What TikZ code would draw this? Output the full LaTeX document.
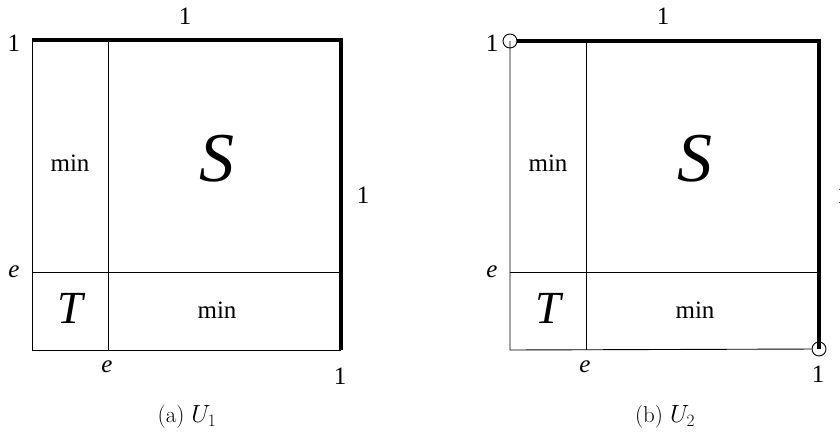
\documentclass[tikz,border=0pt]{standalone}
\usepackage{fontspec}
\newfontfamily\labelfont{Liberation Serif}
\usetikzlibrary{positioning}

\begin{document}
\begin{tikzpicture}[
  x=1pt, y=1pt,
  thin line/.style={line width=0.9pt},
  thick line/.style={line width=3.8pt},
  lbl/.style={font=\labelfont\fontsize{25}{28}\selectfont, inner sep=0pt},
  var/.style={font=\labelfont\itshape\fontsize{25}{28}\selectfont, inner sep=0pt},
  bigS/.style={font=\labelfont\itshape\fontsize{70}{74}\selectfont, inner sep=0pt},
  bigT/.style={font=\labelfont\itshape\fontsize{46}{50}\selectfont, inner sep=0pt},
  subcap/.style={font=\fontsize{23}{26}\selectfont, inner sep=0pt},
  endpt/.style={circle, draw, thin line, minimum size=14pt, inner sep=0pt}
]
\useasboundingbox (0,0) rectangle (840,434);

% (a) U_1
\coordinate (a-sw) at (32,84);
\coordinate (a-nw) at (32,394);
\coordinate (a-ne) at (341,394);
\coordinate (a-se) at (341,84);
\coordinate (a-ex) at (108,84);
\coordinate (a-exn) at (108,394);
\coordinate (a-ey) at (32,162);
\coordinate (a-eye) at (341,162);

\draw[thin line] (a-nw) -- (a-sw) -- (a-se);
\draw[thin line] (a-ex) -- (a-exn);
\draw[thin line] (a-ey) -- (a-eye);
\draw[thick line] (a-nw) -- (a-ne) -- (a-se);

\node[lbl] (a-top) at (185,418) {1};
\node[lbl] (a-left) at (14,391) {1};
\node[lbl] (a-right) at (363,239) {1};
\node[lbl] (a-corner) at (340,58) {1};
\node[var] (a-e1) at (14,162) {e};
\node[var] (a-e2) at (107,67) {e};
\node[lbl] (a-min1) at (70,271) {min};
\node[lbl] (a-min2) at (217,124) {min};
\node[bigS] (a-S) at (217,275) {S};
\node[bigT] (a-T) at (70,126) {T};
\node[subcap] (a-cap) at (187,17) {(a) $U_1$};

% (b) U_2
\coordinate (b-sw) at (510,84);
\coordinate (b-ex) at (586,84);
\coordinate (b-exn) at (586,394);
\coordinate (b-ey) at (510,162);
\coordinate (b-eye) at (819,162);
\node[endpt] (b-start) at (510,393) {};
\node[endpt] (b-end) at (819,85) {};

\draw[thin line] (b-start.center) -- (b-sw) -- (b-end);
\draw[thin line] (b-ex) -- (b-exn);
\draw[thin line] (b-ey) -- (b-eye);
\draw[thick line] (b-start) -| (b-end.center);

\node[lbl] (b-top) at (663,418) {1};
\node[lbl] (b-left) at (492,391) {1};
\node[lbl] (b-right) at (843,239) {1};
\node[lbl] (b-corner) at (818,60) {1};
\node[var] (b-e1) at (492,162) {e};
\node[var] (b-e2) at (585,67) {e};
\node[lbl] (b-min1) at (548,271) {min};
\node[lbl] (b-min2) at (695,124) {min};
\node[bigS] (b-S) at (695,275) {S};
\node[bigT] (b-T) at (548,126) {T};
\node[subcap] (b-cap) at (665,17) {(b) $U_2$};

\end{tikzpicture}
\end{document}
